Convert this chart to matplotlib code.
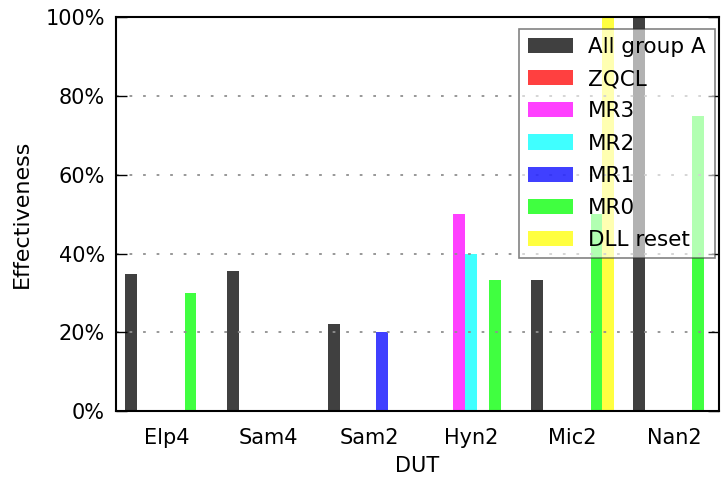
import numpy as np
import matplotlib
matplotlib.use("Agg")
import matplotlib.pyplot as plt
from matplotlib.ticker import PercentFormatter

# Effectiveness of each reset/command group per device under test
duts = ["Elp4", "Sam4", "Sam2", "Hyn2", "Mic2", "Nan2"]
series_names = ["All group A", "ZQCL", "MR3", "MR2", "MR1", "MR0", "DLL reset"]
all_group_a = [34.8, 35.5, 22.2, 0, 33.3, 100]
zqcl = [0, 0, 0, 0, 0, 0]
mr3 = [0, 0, 0, 50, 0, 0]
mr2 = [0, 0, 0, 40, 0, 0]
mr1 = [0, 0, 20, 0, 0, 0]
mr0 = [30, 0, 0, 33.3, 50, 75]
dll_reset = [0, 0, 0, 0, 100, 0]

series = [all_group_a, zqcl, mr3, mr2, mr1, mr0, dll_reset]
colors = ["#000000", "#ff0000", "#ff00ff", "#00ffff", "#0000ff", "#00ff00", "#ffff00"]

plt.rcParams["font.family"] = "DejaVu Sans"
plt.rcParams["font.size"] = 15

fig = plt.figure(figsize=(7.21, 4.82), dpi=100)
ax = fig.add_axes([0.161, 0.147, 0.836, 0.817])

x = np.arange(len(duts))
width = 0.117
for i, (name, vals, c) in enumerate(zip(series_names, series, colors)):
    ax.bar(x + (i - 3) * width, vals, width, color=c, alpha=0.75,
           linewidth=0, label=name)

ax.set_xlim(-0.5, 5.44)
ax.set_ylim(0, 100)
ax.set_xticks(x)
ax.set_xticklabels(duts)
ax.set_yticks(np.arange(0, 101, 20))
ax.yaxis.set_major_formatter(PercentFormatter(decimals=0))
ax.tick_params(axis="x", length=0, pad=12)
ax.tick_params(axis="y", direction="in", length=8, width=1, right=True, pad=8)
ax.yaxis.grid(True, linestyle=(0, (1.5, 6)), color="#909090", linewidth=1.3)

for sp in ax.spines.values():
    sp.set_linewidth(1.5)

ax.set_xlabel("DUT", labelpad=6)
ax.set_ylabel("Effectiveness", labelpad=10, fontsize=16)

leg = ax.legend(loc="upper right", bbox_to_anchor=(0.993, 0.971),
                borderaxespad=0, fancybox=False, framealpha=0.6,
                edgecolor="#303030", handlelength=2.1, handleheight=0.7,
                handletextpad=0.7, labelspacing=0.56, fontsize=15.5)
leg.get_frame().set_linewidth(1.2)

fig.savefig("out.png", dpi=100)
